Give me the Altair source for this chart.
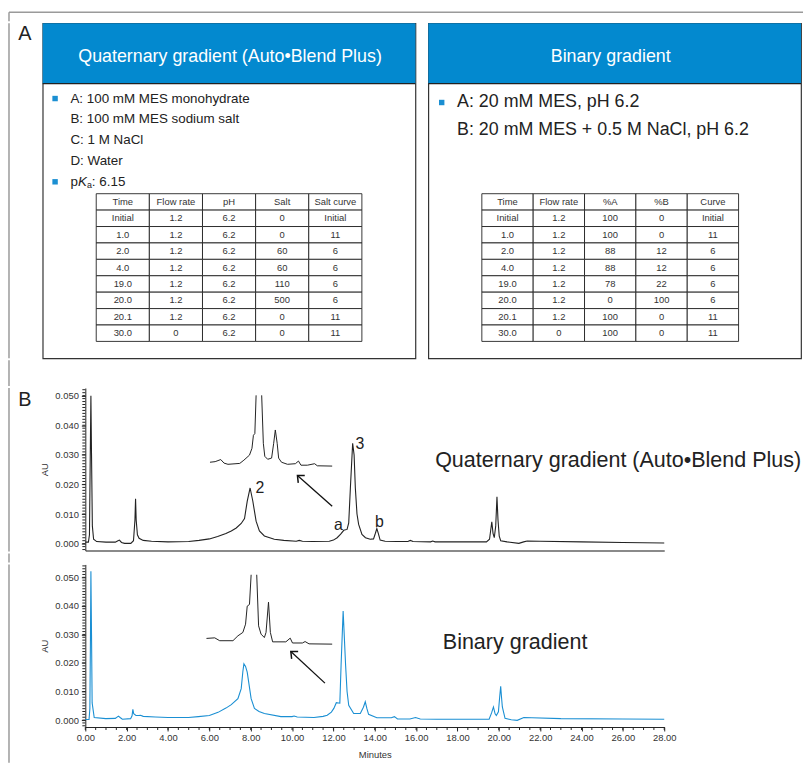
import altair as alt
import pandas as pd

FONT = "Liberation Sans"
HEAD_BLUE = "#0389cf"
BULLET_BLUE = "#1b8fd2"
TRACE_BLUE = "#1a8fd3"
INK = "#222222"
FRAME = "#9a9a9a"

# ---------------- Panel A content ----------------
LEFT_TITLE = "Quaternary gradient (Auto\u2022Blend Plus)"
RIGHT_TITLE = "Binary gradient"
LEFT_LINES = ["A: 100 mM MES monohydrate", "B: 100 mM MES sodium salt", "C: 1 M NaCl", "D: Water"]
RIGHT_LINES = ["A: 20 mM MES, pH 6.2", "B: 20 mM MES + 0.5 M NaCl, pH 6.2"]
PKA_VALUE = ": 6.15"

LEFT_COLUMNS = ["Time", "Flow rate", "pH", "Salt", "Salt curve"]
LEFT_TIME = ["Initial", "1.0", "2.0", "4.0", "19.0", "20.0", "20.1", "30.0"]
LEFT_FLOW = ["1.2", "1.2", "1.2", "1.2", "1.2", "1.2", "1.2", "0"]
LEFT_PH = ["6.2", "6.2", "6.2", "6.2", "6.2", "6.2", "6.2", "6.2"]
LEFT_SALT = ["0", "0", "60", "60", "110", "500", "0", "0"]
LEFT_CURVE = ["Initial", "11", "6", "6", "6", "6", "11", "11"]

RIGHT_COLUMNS = ["Time", "Flow rate", "%A", "%B", "Curve"]
RIGHT_TIME = ["Initial", "1.0", "2.0", "4.0", "19.0", "20.0", "20.1", "30.0"]
RIGHT_FLOW = ["1.2", "1.2", "1.2", "1.2", "1.2", "1.2", "1.2", "0"]
RIGHT_A = ["100", "100", "88", "88", "78", "0", "100", "100"]
RIGHT_B = ["0", "0", "12", "12", "22", "100", "0", "0"]
RIGHT_CURVE = ["Initial", "11", "6", "6", "6", "6", "11", "11"]

# ---------------- Panel B chromatograms (minutes, AU) ----------------
QUAT_MIN = [0.00, 0.15, 0.20, 0.24, 0.27, 0.30, 0.34, 0.40, 0.55, 1.00, 1.45, 1.58, 1.65, 1.75, 1.90,
            2.20, 2.33, 2.40, 2.43, 2.46, 2.52, 2.60, 2.80, 3.20, 4.00, 5.00, 5.50, 6.00, 6.40, 6.80,
            7.06, 7.30, 7.54, 7.70, 7.83, 7.97, 8.10, 8.26, 8.42, 8.66, 9.14, 9.60, 10.20, 10.35, 10.50,
            11.00, 11.80, 12.00, 12.18, 12.35, 12.50, 12.66, 12.74, 12.82, 12.93, 13.00, 13.06, 13.14,
            13.22, 13.38, 13.55, 13.78, 13.94, 14.03, 14.10, 14.17, 14.26, 14.50, 15.05, 15.60, 15.72,
            15.85, 16.70, 16.80, 16.92, 18.00, 19.40, 19.55, 19.66, 19.72, 19.78, 19.85, 19.91, 19.96,
            20.02, 20.09, 20.40, 20.97, 21.20, 21.37, 22.00, 24.00, 26.00, 28.00]
QUAT_AU = [0.0005, 0.0005, 0.0030, 0.0300, 0.0500, 0.0300, 0.0060, 0.0015, 0.0007, 0.0005, 0.0005, 0.0010,
           0.0012, 0.0004, 0.0001, 0.0001, 0.0010, 0.0080, 0.0152, 0.0080, 0.0030, 0.0018, 0.0011, 0.0008,
           0.0006, 0.0007, 0.0011, 0.0016, 0.0024, 0.0034, 0.0043, 0.0053, 0.0068, 0.0085, 0.0143, 0.0188,
           0.0144, 0.0076, 0.0043, 0.0026, 0.0015, 0.0011, 0.0008, 0.0011, 0.0008, 0.0007, 0.0008, 0.0012,
           0.0020, 0.0032, 0.0045, 0.0048, 0.0070, 0.0188, 0.0339, 0.0300, 0.0188, 0.0100, 0.0065, 0.0031,
           0.0020, 0.0015, 0.0016, 0.0035, 0.0051, 0.0035, 0.0012, 0.0008, 0.0007, 0.0007, 0.0011, 0.0007,
           0.0006, 0.0009, 0.0006, 0.0006, 0.0006, 0.0015, 0.0074, 0.0035, 0.0020, 0.0060, 0.0158, 0.0080,
           0.0025, 0.0010, 0.0006, 0.0001, 0.0006, 0.0009, 0.0008, 0.0006, 0.0004, 0.0002]

BIN_MIN = [0.00, 0.18, 0.22, 0.25, 0.27, 0.30, 0.33, 0.43, 0.99, 1.45, 1.60, 1.70, 1.79, 2.19, 2.26, 2.30,
           2.34, 2.45, 2.59, 2.67, 2.80, 3.39, 4.00, 4.99, 5.47, 6.00, 6.42, 6.80, 7.06, 7.38, 7.54, 7.62,
           7.67, 7.75, 7.83, 8.02, 8.18, 8.40, 8.66, 9.46, 10.00, 10.10, 10.25, 11.06, 11.50, 11.70, 11.90,
           12.02, 12.14, 12.31, 12.37, 12.47, 12.59, 12.66, 12.74, 12.98, 13.30, 13.45, 13.54, 13.62, 13.70,
           14.10, 14.80, 14.95, 15.10, 15.70, 15.97, 16.20, 17.00, 19.53, 19.65, 19.74, 19.82, 19.88, 19.98,
           20.04, 20.09, 20.13, 20.17, 20.30, 20.60, 20.89, 21.21, 21.60, 23.00, 26.00, 28.00]
BIN_AU = [0.0002, 0.0002, 0.0040, 0.0300, 0.0521, 0.0300, 0.0060, 0.0009, 0.0005, 0.0006, 0.0014, 0.0008,
          0.0003, 0.0005, 0.0015, 0.0038, 0.0022, 0.0016, 0.0016, 0.0017, 0.0013, 0.0011, 0.0009, 0.0009,
          0.0012, 0.0016, 0.0027, 0.0042, 0.0054, 0.0075, 0.0110, 0.0170, 0.0197, 0.0188, 0.0168, 0.0075,
          0.0041, 0.0030, 0.0023, 0.0012, 0.0012, 0.0014, 0.0011, 0.0009, 0.0013, 0.0017, 0.0028, 0.0041,
          0.0061, 0.0059, 0.0191, 0.0382, 0.0191, 0.0100, 0.0052, 0.0023, 0.0023, 0.0045, 0.0064, 0.0040,
          0.0020, 0.0008, 0.0008, 0.0012, 0.0004, 0.0004, 0.0009, 0.0004, 0.0003, 0.0003, 0.0025, 0.0046,
          0.0022, 0.0016, 0.0029, 0.0080, 0.0118, 0.0080, 0.0046, 0.0006, 0.0001, -0.0001, 0.0009, 0.0008,
          0.0005, 0.0004, 0.0003]

# Insets (zoomed views, drawn where they sit on the main axes); seg splits the clipped peak
QUAT_INSET_MIN = [6.03, 6.28, 6.55, 6.71, 6.90, 7.47, 7.67, 7.94, 8.06, 8.13, 8.20, 8.26,
                  8.53, 8.61, 8.68, 8.82, 9.01, 9.11, 9.19, 9.28, 9.35, 9.49, 9.78, 10.16, 10.31, 10.43,
                  10.74, 11.09, 11.22, 11.94]
QUAT_INSET_AU = [0.0275, 0.0277, 0.0284, 0.0272, 0.0268, 0.0271, 0.0282, 0.0299, 0.0322, 0.0366, 0.0372, 0.0501,
                 0.0501, 0.0339, 0.0295, 0.0285, 0.0289, 0.0339, 0.0384, 0.0339, 0.0289, 0.0275, 0.0268, 0.0270,
                 0.0279, 0.0265, 0.0265, 0.0270, 0.0263, 0.0262]
QUAT_INSET_SEG = [0] * 12 + [1] * 18

BIN_INSET_MIN = [5.86, 6.26, 6.50, 7.14, 7.38, 7.62, 7.75, 7.83, 7.94, 8.02,
                 8.29, 8.38, 8.50, 8.66, 8.74, 8.86, 8.95, 9.06, 9.70, 9.91, 10.02, 10.50, 10.63, 10.82, 11.94]
BIN_INSET_AU = [0.0286, 0.0288, 0.0278, 0.0278, 0.0295, 0.0307, 0.0336, 0.0399, 0.0405, 0.0509,
                0.0509, 0.0330, 0.0301, 0.0289, 0.0307, 0.0413, 0.0307, 0.0274, 0.0274, 0.0287, 0.0270,
                0.0270, 0.0275, 0.0267, 0.0266]
BIN_INSET_SEG = [0] * 10 + [1] * 15

# Arrows: tail -> head
QUAT_ARROW = {"min": 11.94, "au": 0.01263, "min2": 10.26, "au2": 0.0230}
BIN_ARROW = {"min": 11.59, "au": 0.01295, "min2": 9.94, "au2": 0.0240}

QUAT_NOTES_T = ["2", "3", "a", "b"]
QUAT_NOTES_MIN = [8.44, 13.28, 12.24, 14.22]
QUAT_NOTES_AU = [0.0188, 0.0337, 0.0064, 0.0074]

QUAT_LABEL = {"t": "Quaternary gradient (Auto\u2022Blend Plus)", "min": 16.92, "au": 0.0260}
BIN_LABEL = {"t": "Binary gradient", "min": 17.29, "au": 0.0249}

X_MAJOR = [0, 2, 4, 6, 8, 10, 12, 14, 16, 18, 20, 22, 24, 26, 28]
Y_MAJOR = [0.0, 0.01, 0.02, 0.03, 0.04, 0.05]

ONE = pd.DataFrame({"k": [0]})
CHEVRON = "M -0.8 0.9 L 0 0 L 0.8 0.9"


def table_df(columns, values):
    rows = [{"r": 0, "c": c, "t": name} for c, name in enumerate(columns)]
    for c, vals in enumerate(values):
        for i, v in enumerate(vals):
            rows.append({"r": i + 1, "c": c, "t": v})
    return pd.DataFrame(rows)


def panel(title, title_x, lines, line_range, font_size, text_x, bullet_idx, bullet_x, tdf, table_xr, extra=()):
    W, H = 376, 338
    header = alt.Chart(ONE).mark_rect(color=HEAD_BLUE).encode(
        x=alt.value(0), x2=alt.value(W), y=alt.value(0), y2=alt.value(61))
    header_line = alt.Chart(ONE).mark_rule(color=INK, strokeWidth=1.2).encode(
        x=alt.value(0), x2=alt.value(W), y=alt.value(61))
    header_text = alt.Chart(ONE).mark_text(
        text=title, font=FONT, fontSize=18, color="white", align="center", baseline="alphabetic"
    ).encode(x=alt.value(title_x), y=alt.value(39.5))

    idx = list(range(len(lines)))
    ldf = pd.DataFrame({"i": idx, "t": lines})
    dom = [0, line_range[2]]
    yl = alt.Y("i:Q", scale=alt.Scale(domain=dom, range=line_range[:2]), axis=None)
    texts = alt.Chart(ldf).mark_text(
        font=FONT, fontSize=font_size, color=INK, align="left", baseline="middle"
    ).encode(x=alt.value(text_x), y=yl, text="t:N")
    bdf = pd.DataFrame({"i": bullet_idx})
    bullets = alt.Chart(bdf).mark_square(size=30, color=BULLET_BLUE, opacity=1).encode(
        x=alt.value(bullet_x), y=yl)

    xs = alt.Scale(domain=[0, 5], range=table_xr)
    ys = alt.Scale(domain=[0, 9], range=[172, 321])
    cells = alt.Chart(tdf).transform_calculate(c2="datum.c + 1", r2="datum.r + 1").mark_rect(
        fill="white", stroke=INK, strokeWidth=0.9
    ).encode(x=alt.X("c:Q", scale=xs, axis=None), x2="c2:Q",
             y=alt.Y("r:Q", scale=ys, axis=None), y2="r2:Q")
    ctext = alt.Chart(tdf).transform_calculate(cm="datum.c + 0.5", rm="datum.r + 0.5").mark_text(
        font=FONT, fontSize=9.5, color="#333333", align="center", baseline="middle"
    ).encode(x=alt.X("cm:Q", scale=xs, axis=None), y=alt.Y("rm:Q", scale=ys, axis=None), text="t:N")

    extra_layers = [e(yl) for e in extra]
    return alt.layer(header, header_line, header_text, bullets, texts, *extra_layers, cells, ctext).resolve_scale(
        x="independent", y="independent"
    ).properties(width=W, height=H, view=alt.ViewBackground(stroke="#333333", strokeWidth=1.2))


def pka_layers():
    def mk(text, x, size=13.5, style="normal", dy=0):
        def f(yl):
            d = pd.DataFrame({"i": [4]})
            return alt.Chart(d).mark_text(
                text=text, font=FONT, fontSize=size, fontStyle=style, color=INK,
                align="left", baseline="middle", dy=dy
            ).encode(x=alt.value(x), y=yl)
        return f
    return [mk("p", 28), mk("K", 35.6, style="italic"), mk("a", 44.6, size=9, dy=3), mk(PKA_VALUE, 49.6)]


left_tdf = table_df(LEFT_COLUMNS, [LEFT_TIME, LEFT_FLOW, LEFT_PH, LEFT_SALT, LEFT_CURVE])
right_tdf = table_df(RIGHT_COLUMNS, [RIGHT_TIME, RIGHT_FLOW, RIGHT_A, RIGHT_B, RIGHT_CURVE])

panel_left = panel(LEFT_TITLE, 189, LEFT_LINES + [""], [76, 160, 4], 13.5, 28, [0, 4], 12.5,
                   left_tdf, [54, 322], extra=pka_layers())
panel_right = panel(RIGHT_TITLE, 184, RIGHT_LINES, [80, 107.7, 1], 18, 29, [0], 13.5,
                    right_tdf, [54, 313])


# ---------------- chromatograms ----------------
def chrom(mins, aus, color, ydom, imins, iaus, isegs, arrow, label, notes, bottom):
    x_minor = [i * 0.5 for i in range(0, 57)]
    y_minor = [round(i * 0.001, 3) for i in range(-2, 55) if i * 0.001 <= ydom[1]]
    if bottom:
        xaxis = alt.Axis(values=X_MAJOR, format=".2f",
                         tickSize=4, tickColor=INK, domainColor=INK, domainWidth=1, labelFont=FONT,
                         labelFontSize=9.5, labelColor="#333333", labelPadding=2, labelFlush=False,
                         labelOverlap=False, grid=False, title="Minutes", titleFont=FONT,
                         titleFontSize=9.5, titleFontWeight="normal", titleColor="#333333", titlePadding=7)
    else:
        xaxis = alt.Axis(ticks=False, labels=False, grid=False, domainColor="#8a8a8a", domainWidth=2,
                         title=None)
    yaxis = alt.Axis(values=Y_MAJOR, format=".3f",
                     tickSize=4, tickColor=INK, domainColor=INK, domainWidth=1, labelFont=FONT,
                     labelFontSize=9.5, labelColor="#333333", labelPadding=3, labelFlush=False,
                     labelOverlap=False, grid=False, title="AU", titleFont=FONT, titleFontSize=9.5,
                     titleFontWeight="normal", titleColor="#333333", titlePadding=5)
    xs = alt.Scale(domain=[0, 28], nice=False, zero=False)
    ys = alt.Scale(domain=ydom, nice=False, zero=False)
    X = alt.X("min:Q", scale=xs, axis=xaxis)
    Y = alt.Y("au:Q", scale=ys, axis=yaxis)

    layers = []
    # minor ticks
    layers.append(alt.Chart(pd.DataFrame({"au": y_minor})).mark_rule(color=INK, strokeWidth=1).encode(
        y=Y, x=alt.value(-3), x2=alt.value(0)))
    if bottom:
        layers.append(alt.Chart(pd.DataFrame({"min": x_minor})).mark_rule(color=INK, strokeWidth=1).encode(
            x=X, y=alt.value(164), y2=alt.value(167)))

    main = alt.Chart(pd.DataFrame({"min": mins, "au": aus})).mark_line(
        color=color, strokeWidth=1.1, interpolate="linear").encode(x=X, y=Y)
    inset = alt.Chart(pd.DataFrame({"min": imins, "au": iaus, "seg": isegs})).mark_line(
        color=INK, strokeWidth=1).encode(x=X, y=Y, detail="seg:N")
    adf = pd.DataFrame([arrow])
    shaft = alt.Chart(adf).mark_rule(color="#111111", strokeWidth=1.3).encode(
        x=X, y=Y, x2="min2:Q", y2="au2:Q")
    hdf = pd.DataFrame({"min": [arrow["min2"]], "au": [arrow["au2"]]})
    head = alt.Chart(hdf).mark_point(shape=CHEVRON, size=150, filled=False, strokeWidth=1.5,
                                     color="#111111", opacity=1, angle=312).encode(x=X, y=Y)
    big = alt.Chart(pd.DataFrame([label])).mark_text(
        font=FONT, fontSize=21.7, color=INK, align="left", baseline="alphabetic").encode(x=X, y=Y, text="t:N")
    layers += [main, inset, shaft, head, big]
    if notes is not None:
        ndf = pd.DataFrame({"t": notes[0], "min": notes[1], "au": notes[2]})
        layers.append(alt.Chart(ndf).mark_text(
            font=FONT, fontSize=16, color=INK, align="center", baseline="middle").encode(x=X, y=Y, text="t:N"))
    return alt.layer(*layers).properties(width=584, height=164)


chrom_top = chrom(QUAT_MIN, QUAT_AU, INK, [-0.00234, 0.05258], QUAT_INSET_MIN, QUAT_INSET_AU, QUAT_INSET_SEG,
                  QUAT_ARROW, QUAT_LABEL, (QUAT_NOTES_T, QUAT_NOTES_MIN, QUAT_NOTES_AU), bottom=False)
chrom_bot = chrom(BIN_MIN, BIN_AU, TRACE_BLUE, [-0.00243, 0.05451], BIN_INSET_MIN, BIN_INSET_AU, BIN_INSET_SEG,
                  BIN_ARROW, BIN_LABEL, None, bottom=True)


# ---------------- frame strips ----------------
def strip(h, w=22, letter=None, baseline_y=0):
    layers = [alt.Chart(ONE).mark_rule(color=FRAME, strokeWidth=1.5).encode(
        x=alt.value(1), y=alt.value(0), y2=alt.value(h))]
    if letter:
        layers.append(alt.Chart(ONE).mark_text(
            text=letter, font=FONT, fontSize=20, color=INK, align="left", baseline="alphabetic"
        ).encode(x=alt.value(10.3), y=alt.value(baseline_y)))
    return alt.layer(*layers).properties(width=w, height=h)


top_strip = alt.layer(
    alt.Chart(ONE).mark_rule(color=FRAME, strokeWidth=1.5).encode(
        x=alt.value(1), x2=alt.value(802), y=alt.value(1)),
    alt.Chart(ONE).mark_rule(color=FRAME, strokeWidth=1.5).encode(
        x=alt.value(1), y=alt.value(1), y2=alt.value(10)),
).properties(width=802, height=10)

row_a = alt.hconcat(strip(338, letter="A", baseline_y=17.3), panel_left, panel_right, spacing=13, bounds="flush")
row_b1 = alt.hconcat(strip(165, letter="B", baseline_y=17.7), chrom_top, spacing=56, bounds="flush")
row_b2 = alt.hconcat(strip(200), chrom_bot, spacing=56, bounds="flush")

chart = alt.vconcat(
    top_strip, row_a, strip(26), row_b1, strip(9), row_b2,
    spacing=0
).properties(padding=0).configure(font=FONT).configure_view(strokeWidth=0)

chart.save("out.html", embed_options={"renderer": "svg", "actions": False})
